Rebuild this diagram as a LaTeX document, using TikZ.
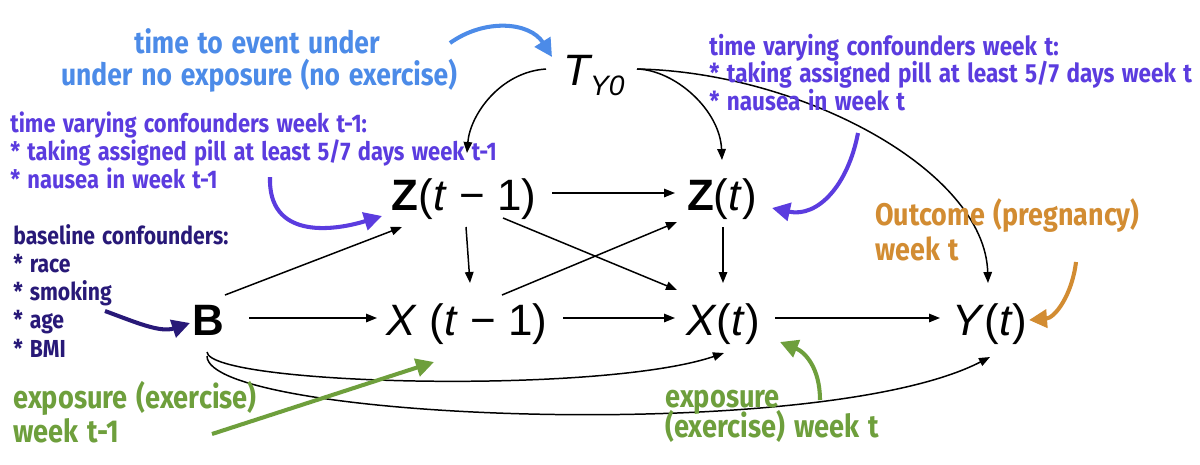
\documentclass[tikz,border=0pt]{standalone}
\usepackage{fontspec}
\setmainfont{Liberation Sans}
\newfontfamily\hand[FakeStretch=0.86]{Fira Sans}
\newfontfamily\handw[FakeStretch=0.86,WordSpace=1.4]{Fira Sans}
\usetikzlibrary{arrows.meta,calc}
\definecolor{cblue}{HTML}{4C8BE8}
\definecolor{cpurple}{HTML}{5B3CDF}
\definecolor{cnavy}{HTML}{281978}
\definecolor{cgreen}{HTML}{6E9F3C}
\definecolor{corange}{HTML}{D28C32}
\begin{document}
\begin{tikzpicture}[x=0.02cm,y=0.02cm,
  var/.style={inner sep=0,anchor=base,font=\fontsize{25}{30}\selectfont},
  arr/.style={line width=0.85pt,-{Triangle[length=0.22cm,width=0.17cm]}},
  ann/.style={line width=2.3pt,-{Triangle[length=0.36cm,width=0.36cm]}},
  note/.style={inner sep=0,anchor=base west,font=\handw\bfseries\fontsize{14.5}{16}\selectfont},
  rnote/.style={note,font=\handw\bfseries\fontsize{14.9}{17}\selectfont},
  nnote/.style={note,font=\hand\bfseries\fontsize{14}{16}\selectfont},
  bignote/.style={note,font=\hand\bfseries\fontsize{18}{20}\selectfont},
  onote/.style={note,font=\hand\bfseries\fontsize{17.8}{20}\selectfont},
  bluenote/.style={inner sep=0,anchor=base,text=cblue,font=\hand\bfseries\fontsize{17.5}{20}\selectfont}]
\path[use as bounding box,fill=white] (0,0) rectangle (1200,-464);

% main variables
\node[var] (T) at (594,-85) {\itshape T\raisebox{-5.7pt}{\fontsize{16}{16}\selectfont Y0}};
\node[var] (zt1) at (464,-210) {\textbf{Z}(\textit{t} − 1)};
\node[var] (zt) at (722,-210) {\textbf{Z}(\textit{t})};
\node[var] (B) at (208,-335) {\textbf{B}};
\node[var] (xt1) at (467,-335) {\textit{X} (\textit{t} − 1)};
\node[var] (xt) at (723,-335) {\textit{X}(\textit{t})};
\node[var] (yt) at (990,-335) {\textit{Y}(\textit{t})};

% causal arrows
\draw[arr] ($(T.base)+(-48,16)$) .. controls ($(T.base)+(-94,13)$) and ($(zt1.base)+(6,95)$) .. ($(zt1.base)+(3,57)$);
\draw[arr] ($(T.base)+(43,16)$) .. controls ($(T.base)+(81,15)$) and ($(zt.base)+(-2,100)$) .. ($(zt.base)+(0,50)$);
\draw[arr] ($(T.base)+(43,16)$) .. controls ($(T.base)+(206,13)$) and ($(yt.base)+(-5,165)$) .. ($(yt.base)+(-2,52)$);
\draw[arr] ($(zt1.base)+(88,17)$) -- ($(zt.base)+(-47,17)$);
\draw[arr] ($(zt1.base)+(2,-17)$) -- ($(xt1.base)+(3,52)$);
\draw[arr] ($(zt1.base)+(39,-8)$) -- ($(xt.base)+(-46,45)$);
\draw[arr] ($(xt1.base)+(35,40)$) -- ($(zt.base)+(-45,-12)$);
\draw[arr] ($(zt.base)+(1,-17)$) -- ($(xt.base)+(0,52)$);
\draw[arr] ($(B.base)+(17,40)$) -- ($(zt1.base)+(-62,-17)$);
\draw[arr] ($(B.base)+(41,17)$) -- ($(xt1.base)+(-90,17)$);
\draw[arr] ($(xt1.base)+(96,17)$) -- ($(xt.base)+(-48,17)$);
\draw[arr] ($(xt.base)+(52,17)$) -- ($(yt.base)+(-50,17)$);
\draw[arr] ($(B.base)+(-1,-17)$) .. controls ($(B.base)+(2,-50)$) and ($(xt.base)+(-123,-60)$) .. ($(xt.base)+(1,-18)$);
\draw[arr] ($(B.base)+(-1,-21)$) .. controls ($(B.base)+(-1,-85)$) and ($(yt.base)+(-170,-110)$) .. ($(yt.base)+(0,-22)$);

% annotations
\node[bluenote] (b1) at (257,-53) {time to event under};
\node[bluenote] (b2) at (259,-85) {under no exposure (no exercise)};

\node[note,text=cpurple] (pl1) at (10,-132) {time varying confounders week t-1:};
\node[note,text=cpurple] (pl2) at (10,-160) {* taking assigned pill at least 5/7 days week t-1};
\node[note,text=cpurple] (pl3) at (10,-188) {* nausea in week t-1};

\node[rnote,text=cpurple] (pr1) at (709,-55) {time varying confounders week t:};
\node[rnote,text=cpurple] (pr2) at (709,-82) {* taking assigned pill at least 5/7 days week t};
\node[rnote,text=cpurple] (pr3) at (709,-110) {* nausea in week t};

\node[nnote,text=cnavy] (n1) at (13,-244) {baseline confounders:};
\node[nnote,text=cnavy] (n2) at (13,-272) {* race};
\node[nnote,text=cnavy] (n3) at (13,-300) {* smoking};
\node[nnote,text=cnavy] (n4) at (13,-328) {* age};
\node[nnote,text=cnavy] (n5) at (13,-357) {* BMI};

\node[bignote,text=cgreen] (gl1) at (13,-408) {exposure (exercise)};
\node[bignote,text=cgreen] (gl2) at (13,-442) {week t-1};

\node[bignote,text=cgreen] (gr1) at (665,-407) {exposure};
\node[bignote,text=cgreen] (gr2) at (665,-437) {(exercise) week t};

\node[onote,text=corange] (o1) at (875,-225) {Outcome (pregnancy)};
\node[onote,text=corange] (o2) at (875,-260) {week t};

% annotation arrows
\coordinate (tb) at (450,-43);
\coordinate (tpl) at (270,-177);
\coordinate (tpr) at (858,-133);
\coordinate (tn) at (105,-311);
\coordinate (tgl) at (212,-434);
\coordinate (tgr) at (820,-400);
\coordinate (to) at (1076,-262);
\draw[ann,cblue] (tb) .. controls (485,-18) and (530,-22) .. ($(T.base)+(-42,28)$);
\draw[ann,cpurple] (tpl) .. controls (268,-238) and (330,-232) .. ($(zt1.base)+(-82,-6)$);
\draw[ann,cpurple] (tpr) .. controls (848,-185) and (818,-218) .. ($(zt.base)+(50,2)$);
\draw[ann,cnavy] (tn) .. controls (135,-322) and (160,-333) .. ($(B.base)+(-18,12)$);
\draw[ann,cgreen] (tgl) -- ($(xt1.base)+(-33,-27)$);
\draw[ann,cgreen] (tgr) .. controls (820,-368) and (805,-352) .. ($(xt.base)+(57,-7)$);
\draw[ann,corange] (to) .. controls (1072,-295) and (1055,-318) .. ($(yt.base)+(39,15)$);
\end{tikzpicture}
\end{document}
